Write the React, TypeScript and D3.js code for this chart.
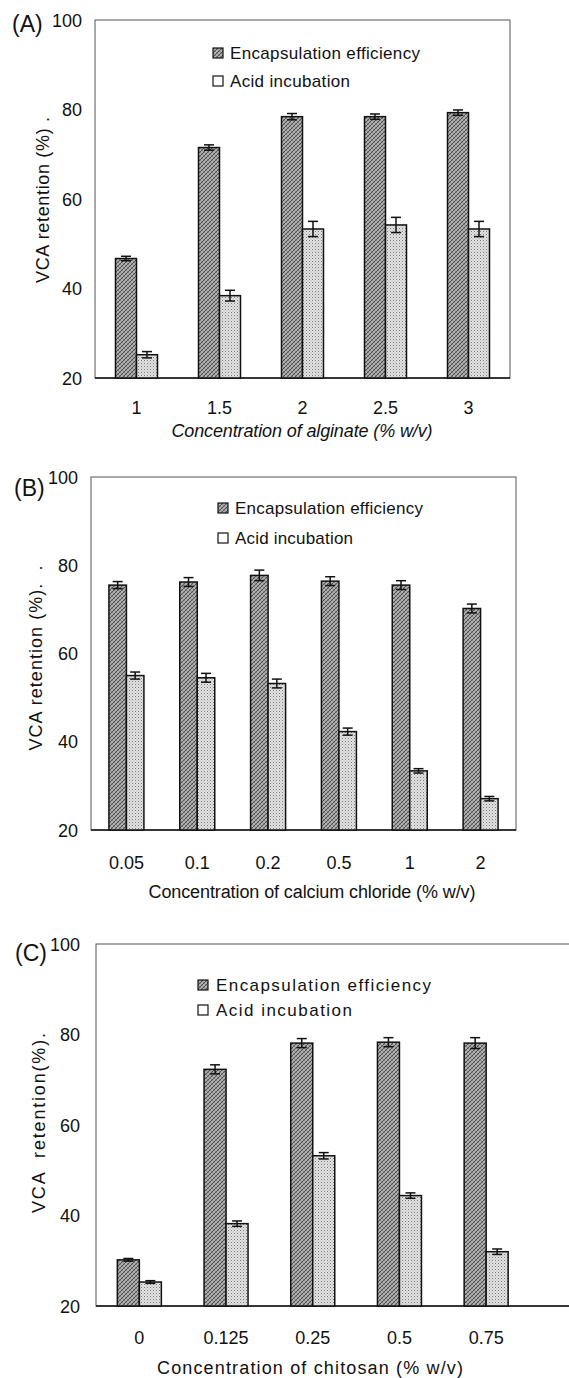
import React from 'react';
import * as d3 from 'd3';

// panel A: alginate
const alginateLabels = ['1', '1.5', '2', '2.5', '3'];
const alginateEE = [46.7, 71.5, 78.4, 78.4, 79.3];
const alginateEEErr = [0.5, 0.6, 0.7, 0.6, 0.6];
const alginateAI = [25.2, 38.4, 53.3, 54.2, 53.3];
const alginateAIErr = [0.7, 1.2, 1.7, 1.7, 1.7];

// panel B: calcium chloride
const calciumLabels = ['0.05', '0.1', '0.2', '0.5', '1', '2'];
const calciumEE = [75.5, 76.2, 77.7, 76.4, 75.5, 70.2];
const calciumEEErr = [0.8, 1.0, 1.2, 1.0, 1.0, 1.0];
const calciumAI = [55.0, 54.5, 53.2, 42.3, 33.4, 27.1];
const calciumAIErr = [0.8, 1.0, 1.0, 0.8, 0.5, 0.5];

// panel C: chitosan
const chitosanLabels = ['0', '0.125', '0.25', '0.5', '0.75'];
const chitosanEE = [30.2, 72.3, 78.1, 78.3, 78.1];
const chitosanEEErr = [0.3, 1.0, 1.0, 1.0, 1.2];
const chitosanAI = [25.3, 38.2, 53.2, 44.4, 32.0];
const chitosanAIErr = [0.3, 0.6, 0.7, 0.6, 0.6];

const yTicks = [20, 40, 60, 80, 100];
const seriesNames = ['Encapsulation efficiency', 'Acid incubation'];

const FONT = '"Liberation Sans", Arial, sans-serif';

const Panel = ({ p }) => {
  const x = d3.scaleBand().domain(p.labels).range([p.left, p.bandRight]).paddingInner(0).paddingOuter(0);
  const y = d3.scaleLinear().domain([20, 100]).range([p.bottom, p.top]);
  const step = x.bandwidth();
  const bw = p.barW;

  const series = [
    { vals: p.ee, errs: p.eeErr, fill: 'url(#hatchEE)', off: -bw },
    { vals: p.ai, errs: p.aiErr, fill: 'url(#dotAI)', off: 0 },
  ];

  return (
    <g>
      {/* frame */}
      <rect x={p.left} y={p.top} width={p.frameRight - p.left} height={p.bottom - p.top}
        fill="none" stroke="#555" strokeWidth={1} />
      <line x1={p.left} x2={p.frameRight} y1={p.bottom} y2={p.bottom} stroke="#111" strokeWidth={1.5} />

      {/* y tick labels */}
      {yTicks.map(t => (
        <text key={t} x={p.tickX} y={y(t) + 6.5} textAnchor="end" fontSize={18} fill="#111">{t}</text>
      ))}

      {/* bars */}
      {p.labels.map((lab, i) => {
        const cx = x(lab) + step / 2;
        return series.map((s, k) => {
          const x0 = cx + s.off;
          const top = y(s.vals[i]);
          const ex = x0 + bw / 2;
          return (
            <g key={lab + k}>
              <rect x={x0} y={top} width={bw} height={p.bottom - top} fill={s.fill} stroke="#111" strokeWidth={1.5} />
              <line x1={ex} x2={ex} y1={y(s.vals[i] + s.errs[i])} y2={y(s.vals[i] - s.errs[i])} stroke="#111" strokeWidth={1.5} />
              <line x1={ex - 5} x2={ex + 5} y1={y(s.vals[i] + s.errs[i])} y2={y(s.vals[i] + s.errs[i])} stroke="#111" strokeWidth={1.5} />
              <line x1={ex - 5} x2={ex + 5} y1={y(s.vals[i] - s.errs[i])} y2={y(s.vals[i] - s.errs[i])} stroke="#111" strokeWidth={1.5} />
            </g>
          );
        });
      })}

      {/* x tick labels */}
      {p.labels.map(lab => (
        <text key={lab} x={x(lab) + step / 2} y={p.xTickY} textAnchor="middle" fontSize={18} fill="#111">{lab}</text>
      ))}

      {/* x title */}
      <text x={p.xTitleX} y={p.xTitleY} textAnchor="middle" fontSize={18} fill="#111"
        fontStyle={p.italic ? 'italic' : 'normal'} textLength={p.xTitleLen} lengthAdjust="spacing">{p.xTitle}</text>

      {/* y title */}
      <text transform={`translate(${p.yTitleX}, ${p.yTitleY}) rotate(-90)`} textAnchor="middle" fontSize={18} fill="#111"
        textLength={p.yTitleLen} lengthAdjust="spacing" style={{ whiteSpace: 'pre' }}>{p.yTitle}</text>

      {/* panel tag */}
      <text x={p.tagX} y={p.tagY} fontSize={23} fill="#111">{p.tag}</text>

      {/* legend */}
      {seriesNames.map((nm, k) => (
        <g key={nm} transform={`translate(${p.legX}, ${p.legY + k * p.legGap})`}>
          <rect x={0} y={-5} width={10} height={10} fill={k === 0 ? 'url(#hatchEE)' : '#fff'} stroke="#111" strokeWidth={1.2} />
          <text x={p.legTextDx} y={6} fontSize={17} fill="#111"
            textLength={k === 0 ? p.legLen0 : p.legLen1} lengthAdjust="spacing">{nm}</text>
        </g>
      ))}
    </g>
  );
};

const panels = [
  {
    tag: '(A)', tagX: 12, tagY: 32,
    labels: alginateLabels, ee: alginateEE, eeErr: alginateEEErr, ai: alginateAI, aiErr: alginateAIErr,
    left: 95, bandRight: 510, frameRight: 510, top: 20, bottom: 378, barW: 21,
    tickX: 82, xTickY: 414, xTitle: 'Concentration of alginate (% w/v)', italic: true,
    xTitleX: 302, xTitleY: 437, xTitleLen: 261,
    yTitle: 'VCA retention (%) .', yTitleX: 49, yTitleY: 200, yTitleLen: 166,
    legX: 213, legY: 53, legGap: 28, legTextDx: 17, legLen0: 190, legLen1: 120,
  },
  {
    tag: '(B)', tagX: 14, tagY: 496,
    labels: calciumLabels, ee: calciumEE, eeErr: calciumEEErr, ai: calciumAI, aiErr: calciumAIErr,
    left: 91, bandRight: 516, frameRight: 516, top: 477, bottom: 830, barW: 17.5,
    tickX: 78, xTickY: 869, xTitle: 'Concentration of calcium chloride (% w/v)', italic: false,
    xTitleX: 312, xTitleY: 898, xTitleLen: 327,
    yTitle: 'VCA retention (%).  .', yTitleX: 42, yTitleY: 658, yTitleLen: 185,
    legX: 218, legY: 508, legGap: 30, legTextDx: 17, legLen0: 188, legLen1: 118,
  },
  {
    tag: '(C)', tagX: 15, tagY: 961,
    labels: chitosanLabels, ee: chitosanEE, eeErr: chitosanEEErr, ai: chitosanAI, aiErr: chitosanAIErr,
    left: 96, bandRight: 529.5, frameRight: 580, top: 944, bottom: 1306, barW: 22,
    tickX: 80, xTickY: 1344, xTitle: 'Concentration of chitosan (% w/v)', italic: false,
    xTitleX: 310, xTitleY: 1374, xTitleLen: 306,
    yTitle: 'VCA  retention(%).', yTitleX: 45, yTitleY: 1123, yTitleLen: 180,
    legX: 198, legY: 985, legGap: 25, legTextDx: 18, legLen0: 215, legLen1: 136,
  },
];

export default function App() {
  return (
    <svg width={569} height={1378} style={{ position: 'absolute', left: 0, top: 0, background: '#fff' }}
      fontFamily={FONT}>
      <defs>
        <pattern id="hatchEE" width={4} height={4} patternUnits="userSpaceOnUse">
          <rect width={4} height={4} fill="#b0b0b0" />
          <path d="M0,4 L4,0 M-1,1 L1,-1 M3,5 L5,3" stroke="#444" strokeWidth={0.9} />
          <path d="M0,0 L4,4" stroke="#777" strokeWidth={0.7} />
        </pattern>
        <pattern id="dotAI" width={3} height={3} patternUnits="userSpaceOnUse">
          <rect width={3} height={3} fill="#e4e4e4" />
          <rect x={0} y={0} width={1} height={1} fill="#777" />
          <rect x={1.5} y={1.5} width={1} height={1} fill="#a0a0a0" />
        </pattern>
      </defs>
      <rect width={569} height={1378} fill="#fff" />
      {panels.map(p => <Panel key={p.tag} p={p} />)}
    </svg>
  );
}
